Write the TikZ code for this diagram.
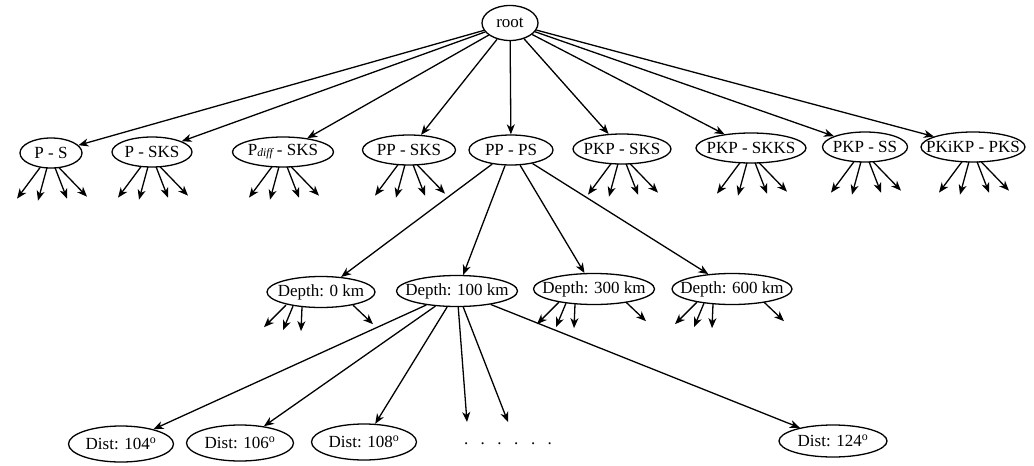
\documentclass[tikz,border=0pt]{standalone}
\usepackage{fontspec}
\setmainfont{Liberation Serif}
\usetikzlibrary{shapes.geometric,arrows.meta}
\newcommand{\zb}[1]{\makebox[0pt][c]{#1}}
\newcommand{\fanone}[1]{%
  \draw[arr] ([xshift=-11pt,yshift=1pt]#1.south) -- ++(-23,31);
  \draw[arr] ([xshift=-4pt,yshift=1pt]#1.south) -- ++(-9,33);
  \draw[arr] ([xshift=4pt,yshift=1pt]#1.south) -- ++(12,31);
  \draw[arr] ([xshift=8pt,yshift=1pt]#1.south) -- ++(28,29);}
\newcommand{\fantwo}[1]{%
  \draw[arr] ([xshift=-35pt,yshift=3pt]#1.south) -- ++(-22,22);
  \draw[arr] ([xshift=-28pt,yshift=2pt]#1.south) -- ++(-10,24);
  \draw[arr] ([xshift=-19pt,yshift=1pt]#1.south) -- ++(-1,24);
  \draw[arr] ([xshift=32pt,yshift=3pt]#1.south) -- ++(20,19);}
\begin{document}
\begin{tikzpicture}[x=1pt,y=-1pt,
  font=\fontsize{17}{20}\selectfont,
  line width=1.3pt,
  el/.style 2 args={ellipse, draw, inner sep=0pt, minimum width=#1, minimum height=#2},
  arr/.style={-{Stealth[length=10pt,width=8pt,inset=3pt]}}]
\useasboundingbox (0,0) rectangle (1034,466);
% root
\node[el={56pt}{35pt}] (root) at (510,23) {\zb{root}};
% level 1
\node[el={62pt}{30pt}]  (ps)     at (51,153)  {\zb{P - S}};
\node[el={80pt}{30pt}]  (psks)   at (152,152) {\zb{P - SKS}};
\node[el={101pt}{30pt}] (pdiff)  at (283,152) {\zb{P\raisebox{-1pt}{\fontsize{11.5}{12}\selectfont\itshape diff}\ - SKS}};
\node[el={93pt}{30pt}]  (ppsks)  at (409,150) {\zb{PP - SKS}};
\node[el={84pt}{30pt}]  (ppps)   at (511,150) {\zb{PP - PS}};
\node[el={98pt}{30pt}]  (pkpsks) at (622,149) {\zb{PKP - SKS}};
\node[el={110pt}{30pt}] (pkpskks) at (751,148) {\zb{PKP - SKKS}};
\node[el={85pt}{30pt}]  (pkpss)  at (865,147) {\zb{PKP - SS}};
\node[el={104pt}{30pt}] (pkikp)  at (973,147) {\zb{PKiKP - PKS}};
% level 2
\node[el={108pt}{31pt}] (d0)   at (321,292) {\zb{Depth: 0 km}};
\node[el={121pt}{31pt}] (d100) at (457,291) {\zb{Depth: 100 km}};
\node[el={121pt}{31pt}] (d300) at (594,289) {\zb{Depth: 300 km}};
\node[el={120pt}{31pt}] (d600) at (732,289) {\zb{Depth: 600 km}};
% level 3
\node[el={105pt}{36pt}] (t104) at (121,444) {\zb{Dist: 104\textsuperscript{o}}};
\node[el={107pt}{36pt}] (t106) at (240,443) {\zb{Dist: 106\textsuperscript{o}}};
\node[el={105pt}{36pt}] (t108) at (364,442) {\zb{Dist: 108\textsuperscript{o}}};
\node[el={108pt}{32pt}] (t124) at (833,441) {\zb{Dist: 124\textsuperscript{o}}};
\node (dots) at (508,444) {.\hspace{12.5pt}.\hspace{12.5pt}.\hspace{12.5pt}.\hspace{12.5pt}.\hspace{12.5pt}.};
\coordinate (f1) at (467,422);
\coordinate (f2) at (508,422);
% edges
\foreach \n in {ps,psks,pdiff,ppsks,ppps,pkpsks,pkpskks,pkpss,pkikp}
  \draw[arr] (root) -- (\n);
\foreach \n in {d0,d100,d300,d600}
  \draw[arr] (ppps) -- (\n);
\foreach \n in {t104,t106,t108,f1,f2,t124}
  \draw[arr] (d100) -- (\n);
% fans
\foreach \n in {ps,psks,pdiff,ppsks,pkpsks,pkpskks,pkpss,pkikp}
  {\fanone{\n}}
\foreach \n in {d0,d300,d600}
  {\fantwo{\n}}
\end{tikzpicture}
\end{document}
